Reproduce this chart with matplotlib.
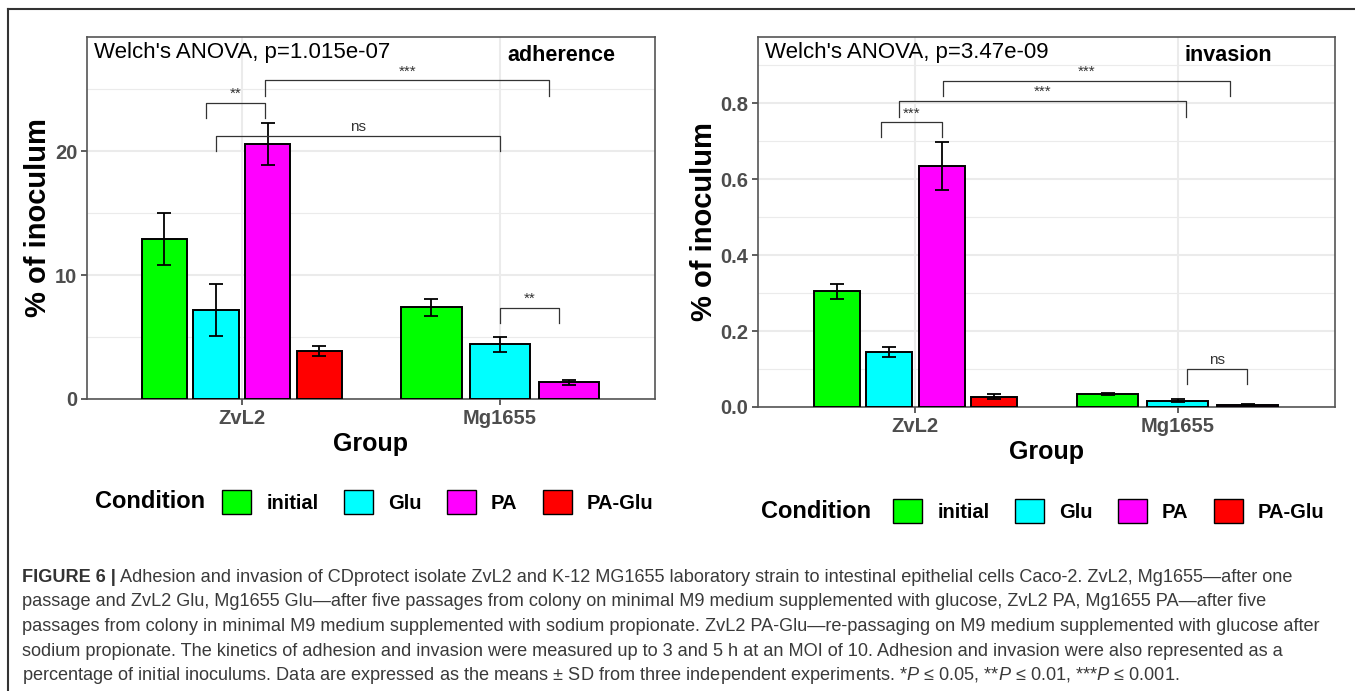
import matplotlib
matplotlib.use('Agg')
import matplotlib.pyplot as plt
from matplotlib.patches import Patch
from matplotlib.lines import Line2D
from matplotlib.ticker import MultipleLocator, FormatStrFormatter

plt.rcParams['font.family'] = ['Liberation Sans', 'DejaVu Sans']
plt.rcParams['mathtext.fontset'] = 'custom'
plt.rcParams['mathtext.rm'] = 'Liberation Sans'
plt.rcParams['mathtext.it'] = 'Liberation Sans:italic'

# ---------------------------------------------------------------- data
grupos = ['ZvL2', 'Mg1655']
condiciones = ['initial', 'Glu', 'PA', 'PA-Glu']
colores = ['#00FF00', '#00FFFF', '#FF00FF', '#FF0000']

# adherence, % of inoculum (mean, SD); Mg1655 has no PA-Glu bar
adh_zvl2 = [12.9, 7.2, 20.6, 3.9]
adh_zvl2_sd = [2.1, 2.1, 1.7, 0.4]
adh_mg = [7.4, 4.4, 1.35]
adh_mg_sd = [0.7, 0.6, 0.2]

# invasion, % of inoculum
inv_zvl2 = [0.305, 0.145, 0.635, 0.027]
inv_zvl2_sd = [0.020, 0.013, 0.062, 0.006]
inv_mg = [0.035, 0.017, 0.006]
inv_mg_sd = [0.003, 0.004, 0.001]

# significance brackets: (x1, x2, y, leg, label)
adh_brackets = [(0.861, 1.089, 23.85, 1.15, '**'),
                (1.09, 2.19, 25.7, 1.25, '***'),
                (0.90, 2.00, 21.2, 1.2, 'ns'),
                (2.00, 2.23, 7.36, 1.2, '**')]
inv_brackets = [(0.87, 1.10, 0.750, 0.038, '***'),
                (0.937, 2.03, 0.806, 0.041, '***'),
                (1.105, 2.20, 0.860, 0.040, '***'),
                (2.035, 2.265, 0.099, 0.039, 'ns')]

anova_adh = "Welch's ANOVA, p=1.015e-07"
anova_inv = "Welch's ANOVA, p=3.47e-09"

caption = [
    "Adhesion and invasion of CDprotect isolate ZvL2 and K-12 MG1655 laboratory strain to intestinal epithelial cells Caco-2. ZvL2, Mg1655\u2014after one",
    "passage and ZvL2 Glu, Mg1655 Glu\u2014after five passages from colony on minimal M9 medium supplemented with glucose, ZvL2 PA, Mg1655 PA\u2014after five",
    "passages from colony in minimal M9 medium supplemented with sodium propionate. ZvL2 PA-Glu\u2014re-passaging on M9 medium supplemented with glucose after",
    "sodium propionate. The kinetics of adhesion and invasion were measured up to 3 and 5 h at an MOI of 10. Adhesion and invasion were also represented as a",
    "percentage of initial inoculums. Data are expressed as the means \u00b1 SD from three independent experiments. *$P$ \u2264 0.05, **$P$ \u2264 0.01, ***$P$ \u2264 0.001.",
]

W, H = 1355, 691
fig = plt.figure(figsize=(W / 100, H / 100), dpi=100)

GRIS = '#4D4D4D'


def panel(rect, v1, s1, v2, s2, ymax, mayor, menor, fmt, brackets, anova, tag):
    ax = fig.add_axes(rect)
    for (vals, sds, xc) in ((v1, s1, 1), (v2, s2, 2)):
        n = len(vals)
        paso = 0.8 / n
        ancho = paso * 0.88
        xs = [xc - 0.4 + paso * (i + 0.5) for i in range(n)]
        ax.bar(xs, vals, width=ancho, color=colores[:n], edgecolor='black',
               linewidth=1.4, zorder=3)
        ax.errorbar(xs, vals, yerr=sds, fmt='none', ecolor='black',
                    elinewidth=1.3, capsize=5, capthick=1.3, zorder=4)
    ax.set_xlim(0.4, 2.6)
    ax.set_ylim(0, ymax)
    ax.set_xticks([1, 2])
    ax.set_xticklabels(grupos)
    ax.yaxis.set_major_locator(MultipleLocator(mayor))
    ax.yaxis.set_minor_locator(MultipleLocator(menor))
    ax.yaxis.set_major_formatter(FormatStrFormatter(fmt))
    ax.grid(which='major', color='#EBEBEB', linewidth=1.5, zorder=0)
    ax.grid(which='minor', axis='y', color='#EBEBEB', linewidth=0.8, zorder=0)
    ax.set_axisbelow(True)
    for s in ax.spines.values():
        s.set_color('#555555')
        s.set_linewidth(1.2)
    ax.tick_params(which='major', length=4, width=1.1, color='#333333',
                   labelcolor=GRIS, labelsize=14.5, pad=3)
    ax.tick_params(which='minor', length=0)
    for lab in ax.get_xticklabels() + ax.get_yticklabels():
        lab.set_fontweight('bold')
    ax.set_xlabel('Group', fontsize=18, fontweight='bold', labelpad=3)
    ax.set_ylabel('% of inoculum', fontsize=21, fontweight='bold', labelpad=2)

    for x1, x2, y, leg, txt in brackets:
        ax.plot([x1, x1, x2, x2], [y - leg, y, y, y - leg], color='#333333',
                linewidth=0.9, zorder=5)
        ax.annotate(txt, xy=((x1 + x2) / 2, y), xytext=(0, 1.5),
                    textcoords='offset points', ha='center', va='bottom',
                    fontsize=11, color='#333333')

    ax.text(0.012, 0.958, anova, transform=ax.transAxes, fontsize=16,
            ha='left', va='center', color='black')
    ax.text(0.74, 0.95, tag, transform=ax.transAxes, fontsize=15.5,
            fontweight='bold', ha='left', va='center', color='black')
    return ax


ax1 = panel([87 / W, 1 - 399 / H, 568 / W, 362 / H],
            adh_zvl2, adh_zvl2_sd, adh_mg, adh_mg_sd, 29.2, 10, 5, '%d',
            adh_brackets, anova_adh, 'adherence')
ax2 = panel([758 / W, 1 - 407 / H, 577 / W, 370 / H],
            inv_zvl2, inv_zvl2_sd, inv_mg, inv_mg_sd, 0.975, 0.2, 0.1, '%.1f',
            inv_brackets, anova_inv, 'invasion')

# legends
handles = [Patch(facecolor=c, edgecolor='black', linewidth=1.0) for c in colores]
for x_cond, x_leg, yc in ((95, 222, 502), (761, 893, 511)):
    fig.text(x_cond / W, 1 - yc / H, 'Condition', fontsize=17,
             fontweight='bold', ha='left', va='center')
    leg = fig.legend(handles, condiciones, loc='center left',
                     bbox_to_anchor=(x_leg / W, 1 - yc / H), ncol=4,
                     frameon=False, fontsize=14.5, handlelength=1.45,
                     handleheight=1.45, handletextpad=0.75, columnspacing=1.25,
                     borderpad=0, borderaxespad=0)
    for t in leg.get_texts():
        t.set_fontweight('bold')

# outer frame of the figure
fig.add_artist(Line2D([8 / W, 1], [1 - 9 / H, 1 - 9 / H], color='#333333',
                      linewidth=1.5, transform=fig.transFigure))
fig.add_artist(Line2D([8 / W, 8 / W], [0, 1 - 9 / H], color='#333333',
                      linewidth=1.5, transform=fig.transFigure))

# caption
y0 = 577
cap_size = 13.1
for i, linea in enumerate(caption):
    y = 1 - (y0 + i * 24.7) / H
    if i == 0:
        t = fig.text(22 / W, y, 'FIGURE 6 |', fontsize=cap_size,
                     fontweight='bold', color='#333333', ha='left',
                     va='center')
        plt.annotate(' ' + linea, xy=(1, 0.5), xycoords=t, ha='left',
                     va='center', fontsize=cap_size, color='#3a3a3a',
                     annotation_clip=False)
    else:
        fig.text(22 / W, y, linea, fontsize=cap_size, color='#3a3a3a',
                 ha='left', va='center')

fig.savefig('out.png', dpi=100)
